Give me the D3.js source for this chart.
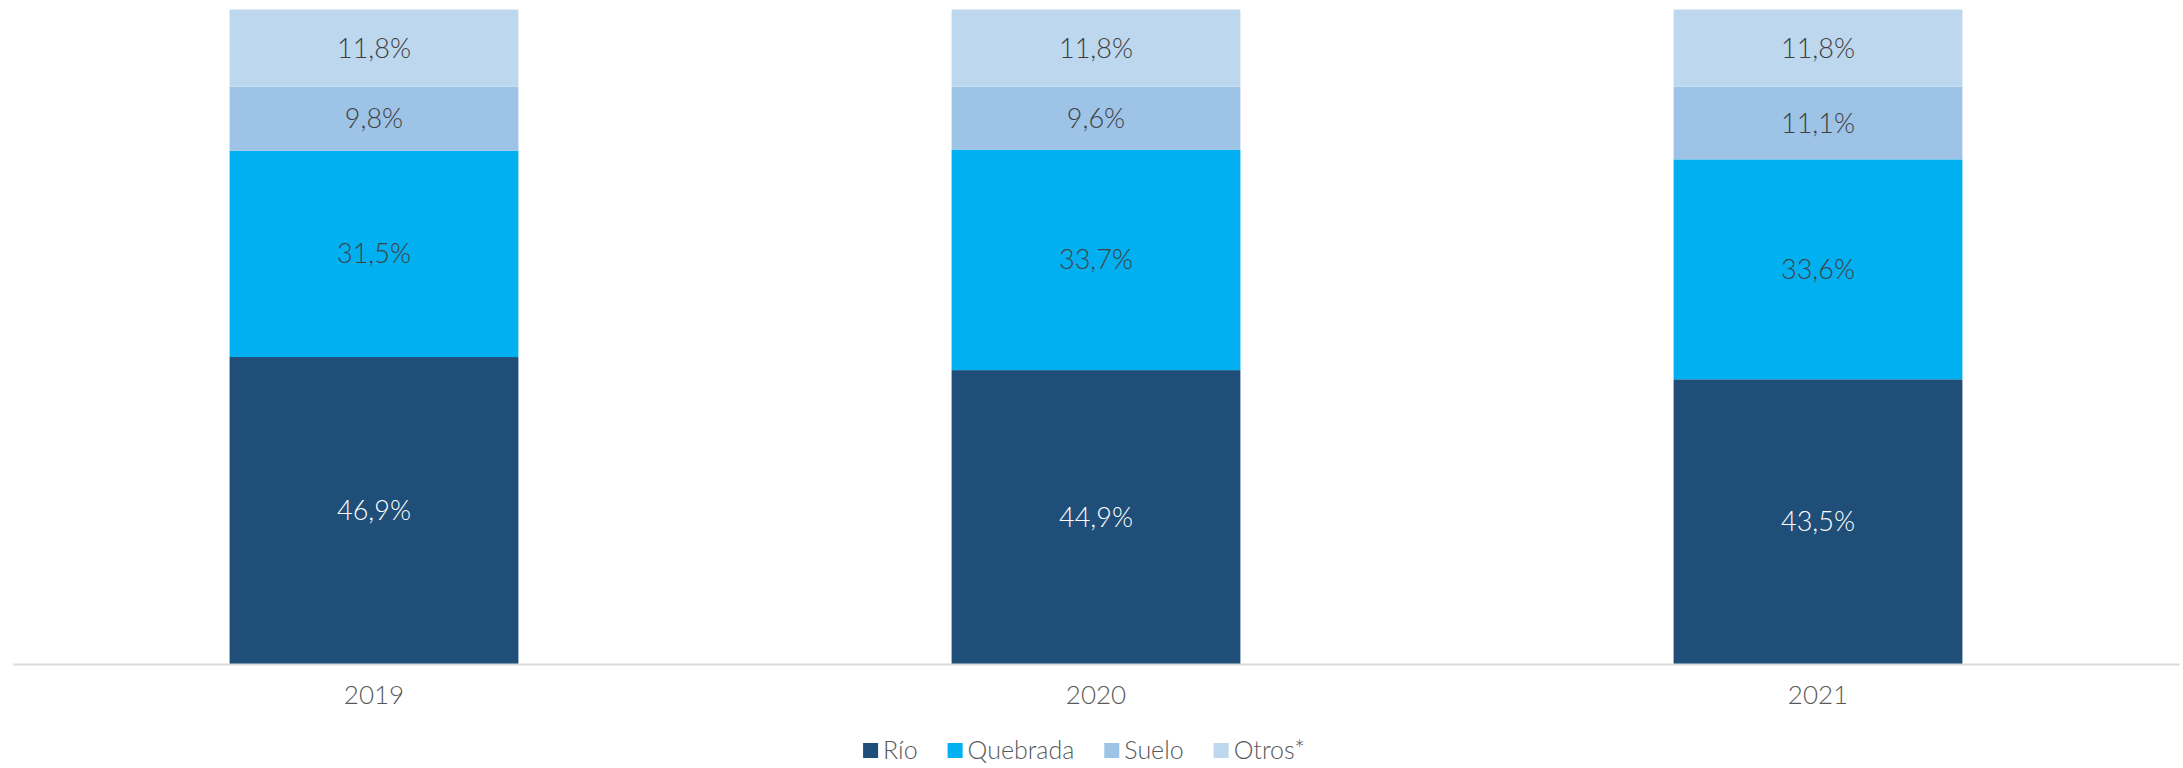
<!DOCTYPE html>
<html>
<head>
<meta charset="utf-8">
<script src="https://cdn.jsdelivr.net/npm/d3@7"></script>
<style>
  body { margin: 0; background: #fff; }
  svg { display: block; font-family: "Lato", "Open Sans", sans-serif; }
</style>
</head>
<body>
<div id="chart"></div>
<script>
// chart data
var years = ["2019", "2020", "2021"];
var seriesNames = ["Río", "Quebrada", "Suelo", "Otros*"];
var rio = [46.9, 44.9, 43.5];
var quebrada = [31.5, 33.7, 33.6];
var suelo = [9.8, 9.6, 11.1];
var otros = [11.8, 11.8, 11.8];

var colors = ["#1F4E79", "#00B0F0", "#9DC3E6", "#BDD7EE"];
var labelColors = ["#ffffff", "#404040", "#404040", "#404040"];

var width = 2183, height = 768;
var margin = {top: 9.5, right: 4, bottom: 104, left: 13};

var table = years.map(function(y, i) {
    return {year: y, "Río": rio[i], "Quebrada": quebrada[i], "Suelo": suelo[i], "Otros*": otros[i]};
});

var stack = d3.stack().keys(seriesNames);
var layers = stack(table);

var x = d3.scaleBand()
    .domain(years)
    .range([margin.left, width - margin.right])
    .paddingInner(0.6)
    .paddingOuter(0.3);

var y = d3.scaleLinear()
    .domain([0, 100])
    .range([height - margin.bottom, margin.top]);

var svg = d3.select("#chart").append("svg")
    .attr("width", width)
    .attr("height", height);

// bars
var groups = svg.selectAll("g.layer")
    .data(layers)
    .enter().append("g")
    .attr("class", "layer")
    .attr("fill", function(d, i) { return colors[i]; });

groups.selectAll("rect")
    .data(function(d) { return d; })
    .enter().append("rect")
    .attr("x", function(d) { return x(d.data.year); })
    .attr("width", x.bandwidth())
    .attr("y", function(d) { return y(d[1]); })
    .attr("height", function(d) { return y(d[0]) - y(d[1]); });

// data labels
layers.forEach(function(layer, i) {
    svg.append("g").selectAll("text")
        .data(layer)
        .enter().append("text")
        .attr("x", function(d) { return x(d.data.year) + x.bandwidth() / 2; })
        .attr("y", function(d) { return (y(d[0]) + y(d[1])) / 2; })
        .attr("dy", "0.35em")
        .attr("text-anchor", "middle")
        .attr("font-size", 27)
        .attr("font-weight", 300)
        .attr("fill", labelColors[i])
        .text(function(d) { return d3.format(".1f")(d[1] - d[0]).replace(".", ",") + "%"; });
});

// x axis
var xAxis = svg.append("g")
    .attr("transform", "translate(0," + y(0) + ")")
    .call(d3.axisBottom(x).tickSize(0).tickPadding(22));
xAxis.select(".domain").attr("stroke", "#D9D9D9").attr("stroke-width", 2);
xAxis.selectAll("text")
    .attr("font-size", 26)
    .attr("font-weight", 300)
    .attr("fill", "#595959")
    .attr("font-family", "Lato, 'Open Sans', sans-serif");

// legend
var legend = svg.append("g");
var lx = 0;
seriesNames.forEach(function(name, i) {
    var item = legend.append("g").attr("transform", "translate(" + lx + ",0)");
    item.append("rect")
        .attr("x", 0).attr("y", -7)
        .attr("width", 15).attr("height", 15)
        .attr("fill", colors[i]);
    var t = item.append("text")
        .attr("x", 20)
        .attr("dy", "0.35em")
        .attr("font-size", 25)
        .attr("font-weight", 300)
        .attr("fill", "#595959")
        .text(name);
    lx += 20 + t.node().getComputedTextLength() + 30;
});
lx -= 30;
legend.attr("transform", "translate(" + (1084 - lx / 2) + ",750)");
</script>
</body>
</html>
